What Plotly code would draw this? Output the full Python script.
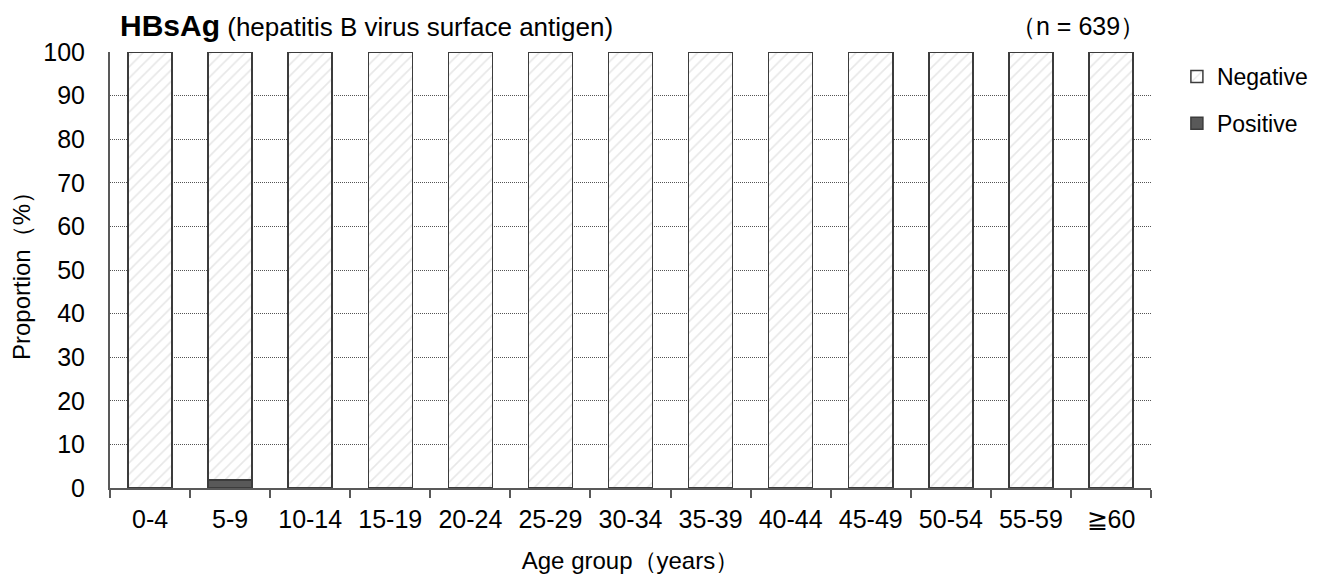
import plotly.graph_objects as go

age_groups = ["0-4", "5-9", "10-14", "15-19", "20-24", "25-29", "30-34",
              "35-39", "40-44", "45-49", "50-54", "55-59", "≧60"]
positive = [0, 1.8, 0, 0, 0, 0, 0, 0, 0, 0, 0, 0, 0]
negative = [100 - p for p in positive]
y_ticks = [0, 10, 20, 30, 40, 50, 60, 70, 80, 90, 100]

FONT = "Liberation Sans, Arial, sans-serif"
OUTLINE = "#3c3c3c"

# the page body has an 8px margin, so the figure is 8px smaller than the window
W, H = 1317, 574
L, R, T, B = 99, 173, 44, 93
plot_w = W - L - R
plot_h = H - T - B


def px_x(x):
    return (x - L) / plot_w


def px_y(y):
    return (H - B - y) / plot_h


fig = go.Figure()
fig.add_bar(
    x=age_groups, y=positive, name="Positive", legendgroup="pos",
    legendrank=2,
    marker=dict(color="#595959", line=dict(color=OUTLINE, width=1.5)),
)
fig.add_bar(
    x=age_groups, y=negative, name="Negative", legendgroup="neg",
    legendrank=1,
    marker=dict(
        color="white",
        line=dict(color=OUTLINE, width=1.5),
        pattern=dict(shape="/", fgcolor="#cfcfcf", bgcolor="white",
                     size=8, solidity=0.2),
    ),
)

fig.update_layout(
    barmode="stack",
    bargap=0.45,
    width=W, height=H,
    margin=dict(l=L, r=R, t=T, b=B),
    plot_bgcolor="white", paper_bgcolor="white",
    font=dict(family=FONT, size=25, color="#000000"),
    legend=dict(
        x=px_x(1170), y=px_y(47), xanchor="left", yanchor="top",
        traceorder="grouped", font=dict(size=23),
        tracegroupgap=14,
    ),
    annotations=[
        dict(text="<b>HBsAg</b><span style='font-size:26px'> (hepatitis B virus surface antigen)</span>",
             x=px_x(107), xref="paper", y=px_y(17), yref="paper",
             showarrow=False, xanchor="left", yanchor="middle",
             font=dict(size=30)),
        dict(text="（n = 639）", x=px_x(1140), xref="paper", y=px_y(18),
             yref="paper", showarrow=False, xanchor="right",
             yanchor="middle", font=dict(size=25)),
    ],
)

fig.update_xaxes(
    showline=True, linecolor="#595959", linewidth=2,
    ticks="outside", tickson="boundaries", ticklen=8, tickcolor="#595959",
    tickwidth=1.5, showgrid=False, ticklabelstandoff=8,
    title=dict(text="Age group（years）", font=dict(size=24), standoff=20),
    tickfont=dict(size=25),
)
fig.update_yaxes(
    range=[0, 100], tickvals=y_ticks,
    showline=True, linecolor="#595959", linewidth=2,
    showgrid=True, gridcolor="#555555", gridwidth=1, griddash="1px,1px",
    zeroline=False, ticks="", ticklabelstandoff=18,
    title=dict(text="Proportion（%）", font=dict(size=24), standoff=6),
    tickfont=dict(size=25),
)

fig.write_html("out.html")
